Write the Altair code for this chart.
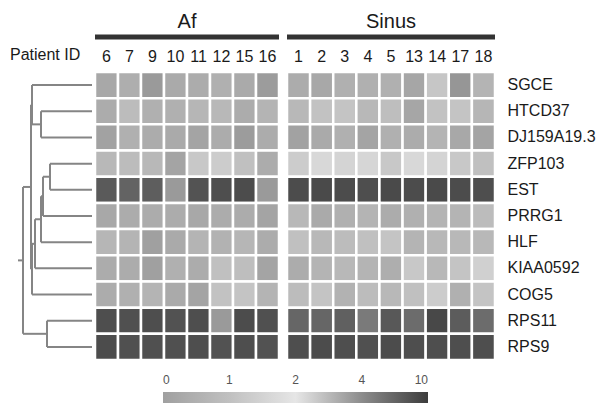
import altair as alt
import numpy as np
import pandas as pd

# ---------------- data ----------------
GENES = ["SGCE", "HTCD37", "DJ159A19.3", "ZFP103", "EST", "PRRG1",
         "HLF", "KIAA0592", "COG5", "RPS11", "RPS9"]
AF_IDS = ["6", "7", "9", "10", "11", "12", "15", "16"]
SINUS_IDS = ["1", "2", "3", "4", "5", "13", "14", "17", "18"]

# expression values on the colour-bar scale (0 .. 10), one row per gene
AF_VALUES = [
    [3.38, 3.24, 3.69, 3.33, 3.29, 3.20, 3.33, 3.64],   # SGCE
    [3.29, 2.93, 3.20, 3.20, 3.07, 3.02, 3.29, 3.11],   # HTCD37
    [3.51, 3.20, 3.29, 3.33, 3.47, 3.29, 3.64, 3.29],   # DJ159A19.3
    [3.02, 2.93, 3.02, 3.47, 2.67, 2.58, 2.84, 3.29],   # ZFP103
    [7.75, 7.08, 7.45, 3.69, 8.28, 8.65, 8.80, 3.69],   # EST
    [3.38, 3.29, 3.29, 3.29, 3.38, 3.29, 3.29, 3.47],   # PRRG1
    [3.07, 3.11, 3.56, 3.33, 3.11, 3.16, 3.07, 3.29],   # HLF
    [3.29, 3.29, 3.56, 3.20, 3.29, 2.84, 2.89, 3.47],   # KIAA0592
    [3.29, 3.20, 3.11, 3.33, 3.47, 2.80, 2.76, 3.11],   # COG5
    [8.65, 8.50, 8.65, 8.35, 8.65, 3.69, 8.80, 8.50],   # RPS11
    [8.80, 8.50, 8.50, 8.50, 8.65, 8.35, 8.65, 8.35],   # RPS9
]
SINUS_VALUES = [
    [3.29, 3.38, 3.20, 3.20, 3.20, 3.42, 2.71, 3.78, 3.11],   # SGCE
    [3.02, 2.80, 2.76, 3.02, 2.89, 3.42, 2.80, 2.76, 3.07],   # HTCD37
    [3.51, 3.33, 3.20, 3.47, 3.20, 3.29, 3.11, 3.38, 3.47],   # DJ159A19.3
    [2.58, 2.31, 2.40, 2.36, 2.67, 2.31, 2.40, 2.67, 2.84],   # ZFP103
    [8.80, 8.95, 8.80, 8.65, 8.95, 8.80, 8.95, 8.80, 8.65],   # EST
    [3.02, 3.33, 3.20, 3.11, 3.29, 3.20, 3.11, 3.11, 2.93],   # PRRG1
    [2.84, 3.02, 2.93, 2.84, 2.76, 3.11, 3.02, 3.02, 3.02],   # HLF
    [3.29, 3.11, 3.02, 3.11, 3.24, 2.67, 3.02, 2.76, 2.49],   # KIAA0592
    [2.93, 2.76, 3.16, 2.93, 3.02, 2.84, 2.58, 3.20, 2.76],   # COG5
    [6.85, 6.85, 7.30, 5.35, 7.90, 6.40, 9.10, 7.60, 6.40],   # RPS11
    [8.65, 8.80, 8.65, 8.50, 8.80, 8.65, 8.65, 8.65, 8.65],   # RPS9
]

LEGEND_TICKS = [0, 1, 2, 4, 10]
LEGEND_GRAYS = ["#a0a0a0", "#c0c0c0", "#e6e6e6", "#8c8c8c", "#3c3c3c"]

# hierarchical clustering of genes: (child a, child b, merge height); leaves 0..10
LINKAGE = [(1, 2, 51), (0, 11, 60), (3, 4, 42), (13, 5, 49), (14, 6, 51),
           (15, 7, 57), (16, 8, 60), (12, 17, 61), (9, 10, 45), (18, 19, 69)]
ROOT_HEIGHT = 74

FONT = "Liberation Sans"

# ---------------- dendrogram segments ----------------
pos = {i: (0.0, i + 0.5) for i in range(len(GENES))}
segs = []
nid = len(GENES)
for a, b, h in LINKAGE:
    ha, ya = pos[a]
    hb, yb = pos[b]
    segs.append(dict(x=h, x2=h, y=ya, y2=yb))
    segs.append(dict(x=ha, x2=h, y=ya, y2=ya))
    segs.append(dict(x=hb, x2=h, y=yb, y2=yb))
    pos[nid] = (h, (ya + yb) / 2)
    nid += 1
hr, yr = pos[nid - 1]
segs.append(dict(x=hr, x2=ROOT_HEIGHT, y=yr, y2=yr))
seg_df = pd.DataFrame(segs)

ROW_H = 288

dendro_lines = alt.Chart(seg_df).mark_rule(color="#858585", strokeWidth=2).encode(
    x=alt.X("x:Q", scale=alt.Scale(domain=[77, 5], nice=False, zero=False), axis=None),
    x2="x2:Q",
    y=alt.Y("y:Q", scale=alt.Scale(domain=[0, len(GENES)], reverse=True, nice=False, zero=False), axis=None),
    y2="y2:Q",
)
patient = alt.Chart(pd.DataFrame({"label": ["Patient ID"]})).mark_text(
    align="left", baseline="alphabetic", fontSize=16, font=FONT, color="#1a1a1a"
).encode(text="label:N", x=alt.value(-5), y=alt.value(-12))
dendro = alt.layer(dendro_lines, patient).properties(width=72, height=ROW_H)


def to_level(v):
    return float(np.interp(v, LEGEND_TICKS, list(range(len(LEGEND_TICKS)))))


color_scale = alt.Scale(domain=list(range(len(LEGEND_TICKS))), range=LEGEND_GRAYS, interpolate="rgb")
legend = alt.Legend(
    orient="none", legendX=148, legendY=320, direction="horizontal",
    gradientLength=265, gradientThickness=12, title=None, padding=0,
    values=list(range(len(LEGEND_TICKS))),
    labelExpr=f"{LEGEND_TICKS}[datum.value]",
    labelOffset={"expr": "-29"}, labelFontSize=12, labelColor="#555555", labelFont=FONT,
    gradientStrokeWidth=0,
)


def panel(title, ids, values, width, show_genes):
    rows = []
    for gi, g in enumerate(GENES):
        for ci, pid in enumerate(ids):
            v = values[gi][ci]
            rows.append(dict(gene=g, pid=pid, value=v, level=to_level(v)))
    df = pd.DataFrame(rows)
    yaxis = alt.Axis(orient="right", title=None, ticks=False, domain=False,
                     labelFontSize=16, labelPadding=12, labelFont=FONT,
                     labelColor="#1a1a1a") if show_genes else None
    cells = alt.Chart(df).mark_rect(stroke="white", strokeWidth=2.5).encode(
        x=alt.X("pid:N", sort=ids, axis=alt.Axis(orient="top", title=None, labelAngle=0,
                                                 ticks=False, domain=False, labelFontSize=16,
                                                 labelPadding=8, labelFont=FONT,
                                                 labelColor="#1a1a1a")),
        y=alt.Y("gene:N", sort=GENES, axis=yaxis),
        color=alt.Color("level:Q", scale=color_scale, legend=legend),
    )
    tdf = pd.DataFrame({"group": [title]})
    bar = alt.Chart(tdf).mark_rule(color="#333333", strokeWidth=5).encode(
        x=alt.value(0), x2=alt.value(width), y=alt.value(-35))
    ttl = alt.Chart(tdf).mark_text(fontSize=20, font=FONT, baseline="alphabetic",
                                   color="#1a1a1a").encode(
        text="group:N", x=alt.value(width / 2), y=alt.value(-44))
    return alt.layer(cells, bar, ttl).properties(width=width, height=ROW_H)


af = panel("Af", AF_IDS, AF_VALUES, 184, False)
sinus = panel("Sinus", SINUS_IDS, SINUS_VALUES, 208, True)

chart = alt.hconcat(dendro, af, sinus, spacing=8, bounds="flush").resolve_scale(
    color="shared"
).properties(
    padding={"left": 10, "top": 12, "right": 5, "bottom": 0}
).configure(
    font=FONT, background="white", view=alt.ViewConfig(stroke=None)
)

chart.save("out.html", embed_options={"renderer": "svg", "actions": False})
